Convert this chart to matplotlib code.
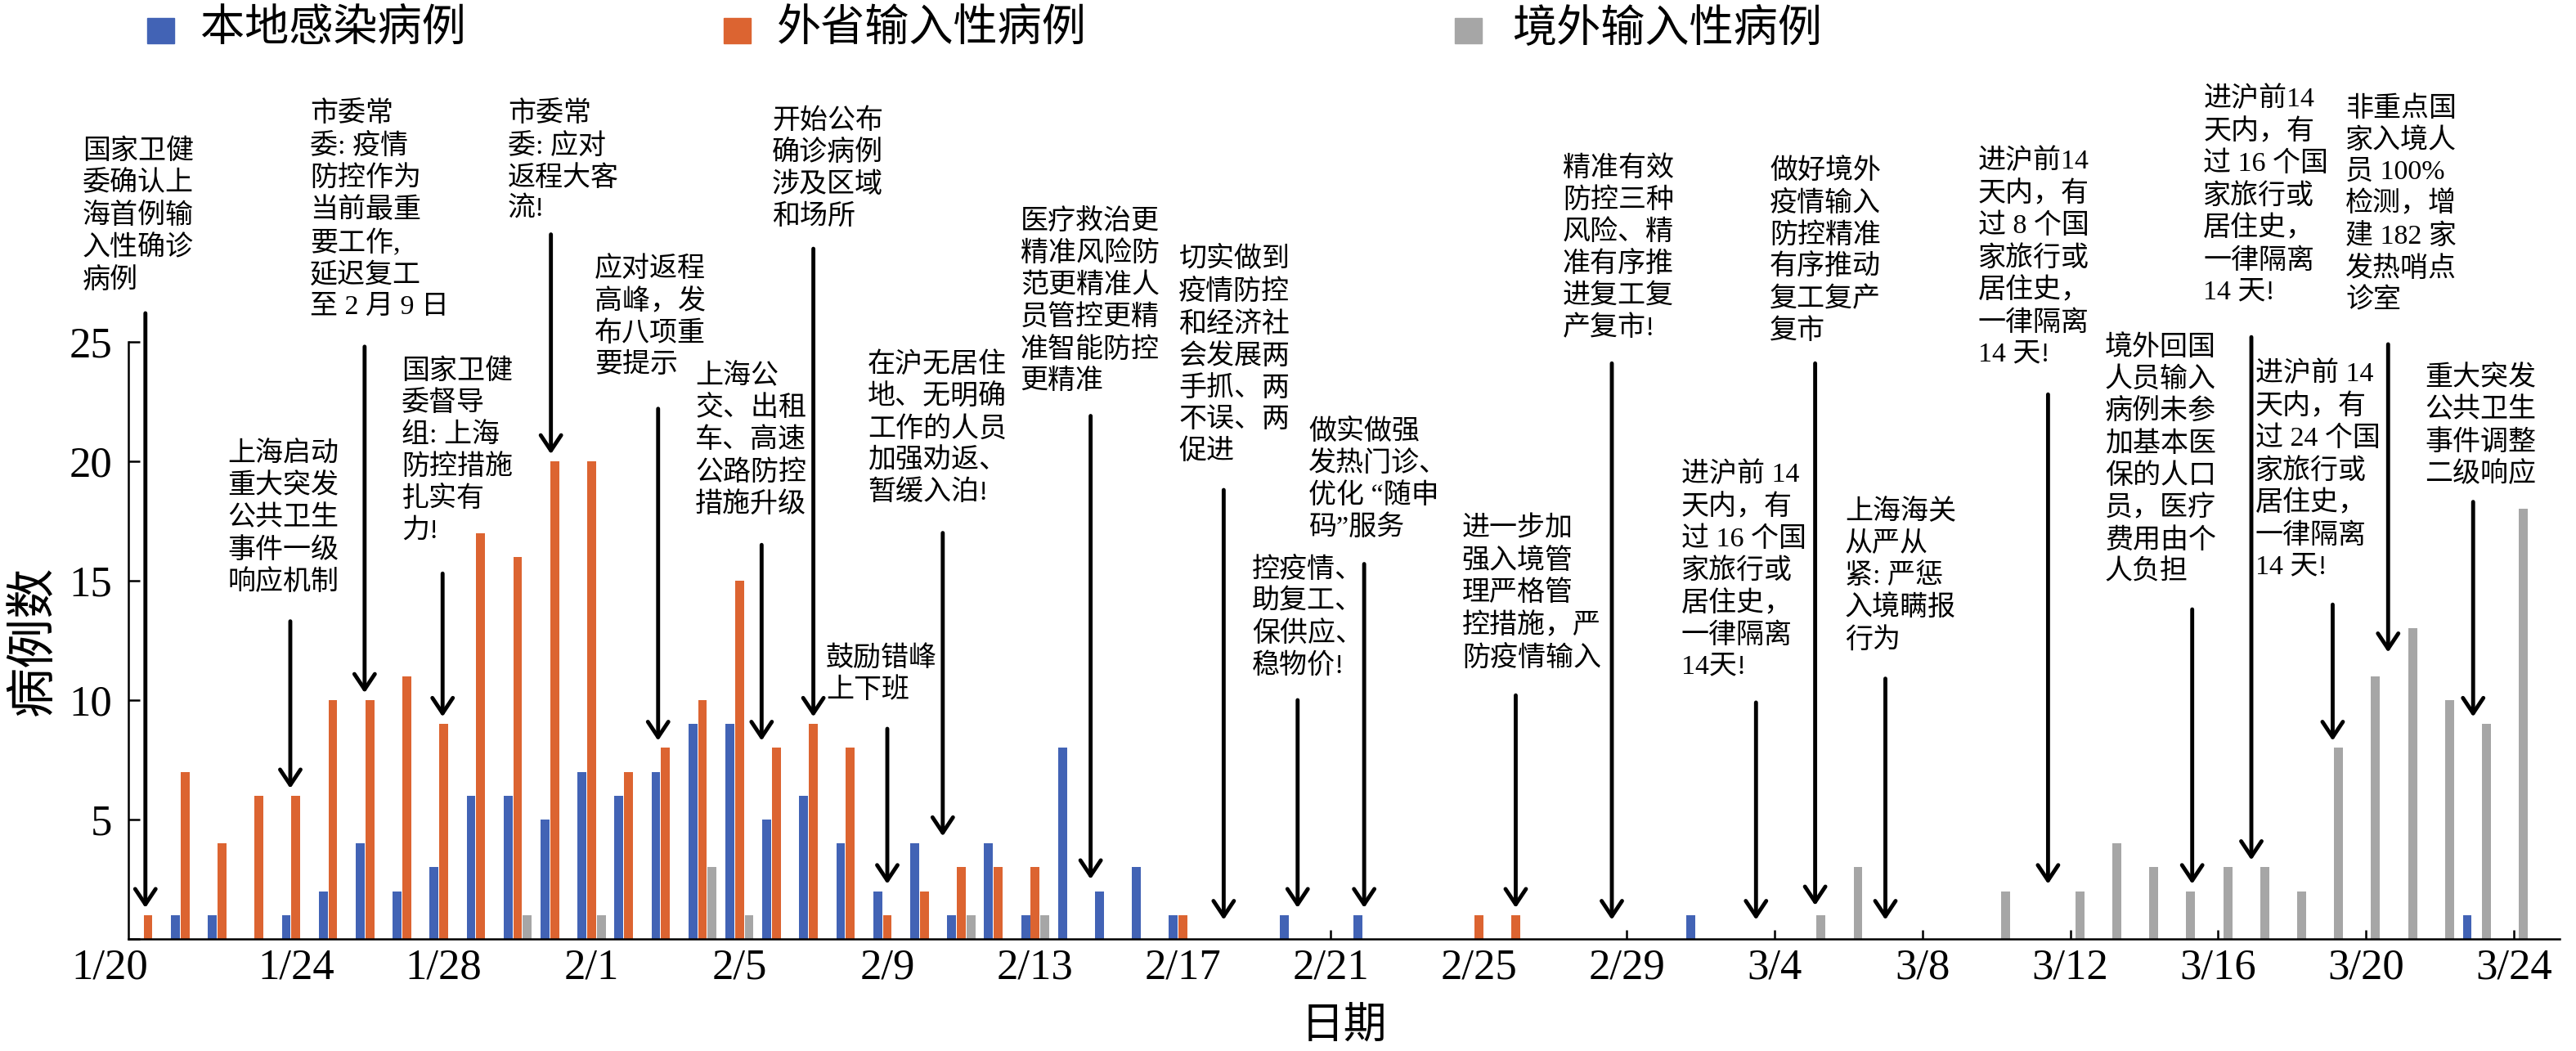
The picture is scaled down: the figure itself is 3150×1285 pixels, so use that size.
import matplotlib
matplotlib.use('Agg')
import matplotlib.pyplot as plt
import numpy as np
from matplotlib.patches import Rectangle

plt.rcParams['font.family'] = ['Liberation Serif', 'Noto Sans CJK SC', 'DejaVu Sans']

# ---- data: one value per day, 1/20 ... 3/24 (2020) ----
local = [0, 1, 1, 0, 1, 2, 4, 2, 3, 6, 6, 5, 7, 6, 7, 9, 9, 5, 6, 4,
         2, 4, 1, 4, 1, 8, 2, 3, 1, 0, 0, 1, 0, 1, 0, 0, 0, 0, 0, 0,
         0, 0, 1, 0, 0, 0, 0, 0, 0, 0, 0, 0, 0, 0, 0, 0, 0, 0, 0, 0,
         0, 0, 0, 1, 0]
other = [1, 7, 4, 6, 6, 10, 10, 11, 9, 17, 16, 20, 20, 7, 8, 10, 15, 8, 9, 8,
         1, 2, 3, 3, 3, 0, 0, 0, 1, 0, 0, 0, 0, 0, 0, 0, 1, 1, 0, 0,
         0, 0, 0, 0, 0, 0, 0, 0, 0, 0, 0, 0, 0, 0, 0, 0, 0, 0, 0, 0,
         0, 0, 0, 0, 0]
overseas = [0, 0, 0, 0, 0, 0, 0, 0, 0, 0, 1, 0, 1, 0, 0, 3, 1, 0, 0, 0,
            0, 0, 1, 0, 1, 0, 0, 0, 0, 0, 0, 0, 0, 0, 0, 0, 0, 0, 0, 0,
            0, 0, 0, 0, 0, 1, 3, 0, 0, 0, 2, 0, 2, 4, 3, 2, 3, 3, 2, 8,
            11, 13, 10, 9, 18]
tick_labels = ['1/20', '1/24', '1/28', '2/1', '2/5', '2/9', '2/13', '2/17', '2/21',
               '2/25', '2/29', '3/4', '3/8', '3/12', '3/16', '3/20', '3/24']
series_names = ['本地感染病例', '外省输入性病例', '境外输入性病例']

# ---- annotations: text, text x/top (data), arrow x, arrow top, arrow tip ----
notes = [
    ("国家卫健\n委确认上\n海首例输\n入性确诊\n病例", -1.77, 33.5, -0.07, 26.2, 1.3),
    ("上海启动\n重大突发\n公共卫生\n事件一级\n响应机制", 2.15, 20.8, 3.85, 13.3, 6.3),
    ("市委常\n委: 疫情\n防控作为\n当前最重\n要工作,\n延迟复工\n至 2 月 9 日", 4.38, 35.1, 5.86, 24.8, 10.3),
    ("国家卫健\n委督导\n组: 上海\n防控措施\n扎实有\n力!", 6.86, 24.3, 7.97, 15.3, 9.3),
    ("市委常\n委: 应对\n返程大客\n流!", 9.73, 35.1, 10.9, 29.5, 20.3),
    ("应对返程\n高峰，发\n布八项重\n要提示", 12.08, 28.6, 13.8, 22.2, 8.3),
    ("上海公\n交、出租\n车、高速\n公路防控\n措施升级", 14.8, 24.1, 16.6, 16.5, 8.3),
    ("开始公布\n确诊病例\n涉及区域\n和场所", 16.88, 34.8, 18.0, 28.9, 9.3),
    ("鼓励错峰\n上下班", 18.34, 12.3, 20.0, 8.8, 2.3),
    ("在沪无居住\n地、无明确\n工作的人员\n加强劝返、\n暂缓入泊!", 19.47, 24.6, 21.5, 17.0, 4.3),
    ("医疗救治更\n精准风险防\n范更精准人\n员管控更精\n准智能防控\n更精准", 23.6, 30.6, 25.5, 21.9, 2.5),
    ("切实做到\n疫情防控\n和经济社\n会发展两\n手抓、两\n不误、两\n促进", 27.88, 29.0, 29.1, 18.8, 0.8),
    ("控疫情、\n助复工、\n保供应、\n稳物价!", 29.87, 16.0, 31.1, 10.0, 1.3),
    ("做实做强\n发热门诊、\n优化 “随申\n码”服务", 31.4, 21.8, 32.9, 15.7, 1.3),
    ("进一步加\n强入境管\n理严格管\n控措施，严\n防疫情输入", 35.55, 17.7, 37.0, 10.2, 1.3),
    ("精准有效\n防控三种\n风险、精\n准有序推\n进复工复\n产复市!", 38.27, 32.8, 39.6, 24.1, 0.8),
    ("进沪前 14\n天内，有\n过 16 个国\n家旅行或\n居住史，\n一律隔离\n14天!", 41.48, 20.0, 43.5, 9.9, 0.8),
    ("做好境外\n疫情输入\n防控精准\n有序推动\n复工复产\n复市", 43.87, 32.7, 45.1, 24.1, 1.4),
    ("上海海关\n从严从\n紧: 严惩\n入境瞒报\n行为", 45.9, 18.4, 47.0, 10.9, 0.8),
    ("进沪前14\n天内，有\n过 8 个国\n家旅行或\n居住史，\n一律隔离\n14 天!", 49.5, 33.1, 51.4, 22.8, 2.3),
    ("境外回国\n人员输入\n病例未参\n加基本医\n保的人口\n员，医疗\n费用由个\n人负担", 52.94, 25.3, 55.3, 13.8, 2.3),
    ("进沪前14\n天内，有\n过 16 个国\n家旅行或\n居住史，\n一律隔离\n14 天!", 55.6, 35.7, 56.9, 25.2, 3.3),
    ("进沪前 14\n天内，有\n过 24 个国\n家旅行或\n居住史，\n一律隔离\n14 天!", 57.0, 24.2, 59.1, 14.0, 8.3),
    ("非重点国\n家入境人\n员 100%\n检测，增\n建 182 家\n发热哨点\n诊室", 59.45, 35.3, 60.6, 24.9, 12.0),
    ("重大突发\n公共卫生\n事件调整\n二级响应", 61.6, 24.0, 62.9, 18.3, 9.3),
]

BLUE = '#4263B5'
ORANGE = '#DC6431'
GRAY = '#A6A6A6'
colors = [BLUE, ORANGE, GRAY]

W, H = 3150, 1285
fig = plt.figure(figsize=(W / 100, H / 100), dpi=100)
ax = fig.add_axes([157 / W, 1 - 1148 / H, (3130 - 157) / W, (1148 - 418) / H])

days = np.arange(len(local))
bw, off = 0.24, 0.26
ax.bar(days - off, local, bw, color=BLUE, zorder=2)
ax.bar(days, other, bw, color=ORANGE, zorder=2)
ax.bar(days + off, overseas, bw, color=GRAY, zorder=2)

ax.set_xlim(-0.53, 65.24)
ax.set_ylim(0, 25)
ax.set_xticks(np.arange(0, 65, 4))
ax.set_xticklabels(tick_labels)
ax.get_xticklabels()[0].set_horizontalalignment('right')
ax.set_yticks([0, 5, 10, 15, 20, 25])
ax.set_yticklabels(['', '5', '10', '15', '20', '25'])
ax.tick_params(axis='both', direction='in', labelsize=38, width=1.8)
ax.tick_params(axis='y', length=10, pad=14)
ax.tick_params(axis='x', length=8, pad=8)
for s in ['top', 'right']:
    ax.spines[s].set_visible(False)
for s in ['left', 'bottom']:
    ax.spines[s].set_linewidth(1.8)
ax.set_xlabel('日期', fontsize=38, labelpad=18)
ax.set_ylabel('病例数', fontsize=44, labelpad=10)

for txt, tx, ty, axx, ay0, ay1 in notes:
    ax.text(tx, ty, txt, fontsize=24.5, va='top', ha='left', linespacing=1.30,
            clip_on=False, zorder=5)
    ax.annotate('', xy=(axx, ay1), xytext=(axx, ay0),
                arrowprops=dict(arrowstyle='->,head_length=0.45,head_width=0.3',
                                mutation_scale=30, lw=3.5, color='black',
                                shrinkA=0, shrinkB=0),
                annotation_clip=False, zorder=6)

# legend at top
leg = [(180, 245), (885, 950), (1779, 1849)]
for (sx, tx), name, c in zip(leg, series_names, colors):
    fig.patches.append(Rectangle((sx / W, 1 - 53 / H), 33 / W, 31 / H,
                                 transform=fig.transFigure, color=c))
    fig.text(tx / W, 1 - 38 / H, name, fontsize=39, va='center', ha='left')

fig.savefig('out.png', dpi=100)
